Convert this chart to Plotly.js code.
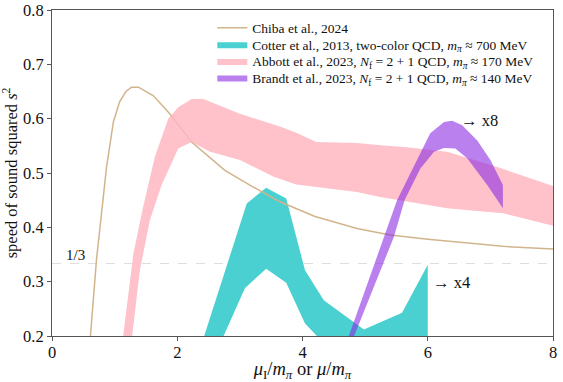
<!DOCTYPE html>
<html>
<head>
<meta charset="utf-8">
<script src="https://cdn.plot.ly/plotly-3.0.1.min.js"></script>
<style>
  body { margin: 0; background: #fff; }
  #chart { width: 563px; height: 382px; }
</style>
</head>
<body>
<div id="chart"></div>
<script>
// Chiba et al., 2024 (line)
const chibaX = [0.58, 0.614, 0.71, 0.79, 0.87, 0.98, 1.08, 1.18, 1.27, 1.38, 1.62, 1.88, 2.23, 2.76, 3.2, 3.64, 4.2, 4.87, 5.4, 6.0, 6.6, 7.2, 8.0];
const chibaY = [0.17, 0.2, 0.34, 0.42, 0.51, 0.594, 0.631, 0.65, 0.658, 0.658, 0.642, 0.609, 0.557, 0.505, 0.475, 0.447, 0.42, 0.398, 0.386, 0.378, 0.371, 0.365, 0.36];

// Cotter et al., 2013 (band: upper edge, then lower edge back)
const cotterUpX = [2.35, 2.43, 3.11, 3.42, 3.74, 4.04, 4.34, 4.98, 5.59, 6.0];
const cotterUpY = [0.17, 0.2, 0.444, 0.473, 0.453, 0.321, 0.266, 0.212, 0.243, 0.331];
const cotterLoX = [6.0, 4.3, 4.23, 4.04, 3.74, 3.42, 3.08, 2.74, 2.69];
const cotterLoY = [0.17, 0.17, 0.2, 0.223, 0.298, 0.324, 0.288, 0.2, 0.17];

// Abbott et al., 2023 (band)
const abbottUpX = [1.11, 1.136, 1.3, 1.456, 1.643, 1.856, 2.016, 2.23, 2.416, 2.736, 3.0, 3.65, 3.9, 4.22, 4.87, 5.24, 5.62, 6.31, 7.11, 8.0];
const abbottUpY = [0.17, 0.2, 0.352, 0.438, 0.53, 0.6, 0.621, 0.636, 0.636, 0.621, 0.609, 0.585, 0.574, 0.557, 0.555, 0.551, 0.548, 0.539, 0.511, 0.476];
const abbottLoX = [8.0, 7.2, 6.31, 5.24, 4.87, 3.9, 3.54, 3.0, 2.523, 2.23, 2.016, 1.75, 1.563, 1.403, 1.27, 1.25];
const abbottLoY = [0.403, 0.426, 0.435, 0.456, 0.465, 0.479, 0.493, 0.524, 0.539, 0.557, 0.545, 0.478, 0.413, 0.321, 0.2, 0.17];

// Brandt et al., 2023 (band)
const brandtUpX = [4.65, 4.74, 5.51, 5.67, 5.94, 6.04, 6.26, 6.39, 6.55, 6.79, 7.0, 7.2];
const brandtUpY = [0.17, 0.2, 0.45, 0.487, 0.548, 0.573, 0.594, 0.596, 0.588, 0.56, 0.524, 0.478];
const brandtLoX = [7.2, 6.95, 6.63, 6.44, 6.26, 6.1, 5.88, 5.63, 5.46, 4.81, 4.72];
const brandtLoY = [0.435, 0.478, 0.527, 0.545, 0.546, 0.539, 0.508, 0.45, 0.3825, 0.2, 0.17];

const serif = "'Liberation Serif', 'Times New Roman', serif";

const chiba = {
  x: chibaX, y: chibaY, type: "scatter", mode: "lines",
  line: { color: "#d2b48c", width: 1.5 },
  name: "Chiba et al., 2024", legend: "legend",
};
const cotter = {
  x: cotterUpX.concat(cotterLoX), y: cotterUpY.concat(cotterLoY),
  type: "scatter", mode: "lines", fill: "toself",
  fillcolor: "#4ad0d0", line: { width: 0 },
  name: "Cotter et al., 2013, two-color QCD, <i>m</i><sub><i>π</i></sub> ≈ 700 MeV", legend: "legend2",
};
const abbott = {
  x: abbottUpX.concat(abbottLoX), y: abbottUpY.concat(abbottLoY),
  type: "scatter", mode: "lines", fill: "toself",
  fillcolor: "rgba(255,182,193,0.85)", line: { width: 0 },
  name: "Abbott et al., 2023, <i>N</i><sub>f</sub> = 2 + 1 QCD, <i>m</i><sub><i>π</i></sub> ≈ 170 MeV", legend: "legend3",
};
const brandt = {
  x: brandtUpX.concat(brandtLoX), y: brandtUpY.concat(brandtLoY),
  type: "scatter", mode: "lines", fill: "toself",
  fillcolor: "rgba(138,43,226,0.6)", line: { width: 0 },
  name: "Brandt et al., 2023, <i>N</i><sub>f</sub> = 2 + 1 QCD, <i>m</i><sub><i>π</i></sub> ≈ 140 MeV", legend: "legend4",
};

// teal under the line, pink and purple above it
const data = [cotter, chiba, abbott, brandt];

const axisCommon = {
  showgrid: false, zeroline: false,
  showline: true, mirror: true, linecolor: "#555", linewidth: 1,
  ticks: "outside", ticklen: 4, tickcolor: "#555",
  tickfont: { family: serif, size: 16.5, color: "#111" },
};

// one legend per row so the rows sit as tight as in the reference
function legendRow(y) {
  return {
    x: 0.32, y: y, xanchor: "left", yanchor: "middle",
    bgcolor: "rgba(0,0,0,0)", font: { family: serif, size: 13.5 },
  };
}

const layout = {
  width: 563, height: 382,
  margin: { l: 52, r: 10, t: 10, b: 46 },
  paper_bgcolor: "#fff", plot_bgcolor: "#fff",
  font: { family: serif, color: "#111" },
  showlegend: true,
  legend: legendRow(0.945),
  legend2: legendRow(0.894),
  legend3: legendRow(0.843),
  legend4: legendRow(0.792),
  xaxis: Object.assign({}, axisCommon, {
    range: [0, 8], dtick: 2, tick0: 0, ticklabelstandoff: -3,
    title: { text: "<i>μ</i><sub>I</sub>/<i>m</i><sub><i>π</i></sub> or <i>μ</i>/<i>m</i><sub><i>π</i></sub>",
             font: { family: serif, size: 18.5 }, standoff: 2 },
  }),
  yaxis: Object.assign({}, axisCommon, {
    range: [0.2, 0.8], dtick: 0.1, tick0: 0.2, tickformat: ".1f",
    title: { text: "speed of sound squared <i>s</i><sup>2</sup>",
             font: { family: serif, size: 16.5 }, standoff: 6 },
  }),
  shapes: [{
    type: "line", xref: "x", yref: "y", x0: 0, x1: 8, y0: 1 / 3, y1: 1 / 3,
    line: { color: "#ddd", width: 1, dash: "dash" }, layer: "below",
  }],
  annotations: [
    { x: 0.38, y: 0.35, xref: "x", yref: "y", text: "1/3", showarrow: false,
      font: { family: serif, size: 15, color: "#111" } },
    { x: 6.5, y: 0.597, xref: "x", yref: "y", text: "→ x8", showarrow: false, xanchor: "left",
      font: { family: serif, size: 16.5, color: "#111" } },
    { x: 6.05, y: 0.298, xref: "x", yref: "y", text: "→ x4", showarrow: false, xanchor: "left",
      font: { family: serif, size: 16.5, color: "#111" } },
  ],
};

Plotly.newPlot("chart", data, layout, { displayModeBar: false, staticPlot: true });
</script>
</body>
</html>
